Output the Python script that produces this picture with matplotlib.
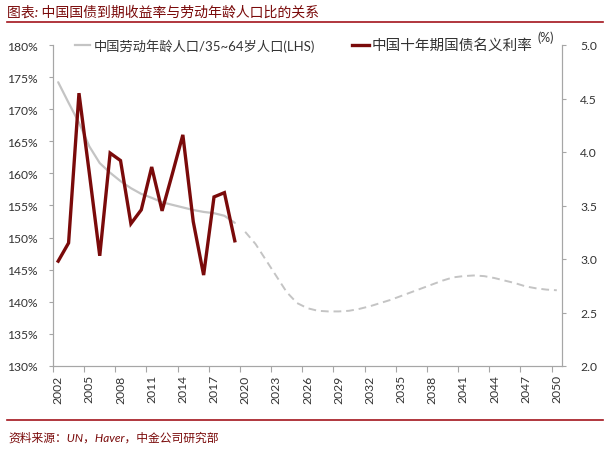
import matplotlib
matplotlib.use("Agg")
import matplotlib.pyplot as plt
from matplotlib.lines import Line2D
from matplotlib.ticker import FixedLocator, NullFormatter, FuncFormatter

# data
years = list(range(2002, 2020))
labor_ratio = [174.2, 171.0, 167.9, 164.2, 161.6, 160.1, 158.8, 157.7, 156.8,
               156.2, 155.5, 155.1, 154.7, 154.3, 154.0, 153.8, 153.4, 152.3]
bond_yield = [2.98, 3.15, 4.55, 3.80, 3.03, 3.99, 3.92, 3.33, 3.46,
              3.86, 3.45, 3.80, 4.16, 3.35, 2.85, 3.58, 3.62, 3.17]

proj_years = list(range(2020, 2051))
labor_ratio_proj = [150.9, 149.0, 146.5, 144.0, 141.5, 139.8, 139.0, 138.6,
                    138.5, 138.5, 138.6, 138.9, 139.3, 139.8, 140.3, 140.9,
                    141.5, 142.1, 142.7, 143.3, 143.8, 144.0, 144.1, 144.0,
                    143.7, 143.3, 142.9, 142.4, 142.1, 141.9, 141.8]

label_labor = "中国劳动年龄人口/35~64岁人口(LHS)"
label_yield = "中国十年期国债名义利率"
title = "图表: 中国国债到期收益率与劳动年龄人口比的关系"
source = "资料来源：UN，Haver，中金公司研究部"

MIXED = ["Lato", "Noto Sans CJK SC", "DejaVu Sans"]
DARK_RED = "#7a0a0a"
RULE_RED = "#a3141c"
GREY = "#c4c4c4"
AXIS_GREY = "#a6a6a6"
TEXT = "#333333"

plt.rcParams["font.family"] = MIXED

W, H = 610, 452
fig = plt.figure(figsize=(W / 100, H / 100), dpi=100)
ax = fig.add_axes([53 / W, 1 - 367 / H, (562 - 53) / W, (367 - 46) / H])
ax2 = ax.twinx()

# lines
ax.plot(years, labor_ratio, color=GREY, lw=1.6, solid_capstyle="round")
ax.plot(proj_years, labor_ratio_proj, color=GREY, lw=1.4, ls=(0, (4, 2.5)))
ax2.plot(years, bond_yield, color=DARK_RED, lw=2.4, solid_joinstyle="miter")

# axes
ax.set_xlim(2001.5, 2050.5)
ax.set_ylim(130, 180)
ax2.set_ylim(2.0, 5.0)
ax.set_yticks(range(130, 181, 5))
ax.yaxis.set_major_formatter(FuncFormatter(lambda v, p: f"{v:.0f}%"))
ax2.set_yticks([2.0 + 0.5 * i for i in range(7)])
ax2.yaxis.set_major_formatter(FuncFormatter(lambda v, p: f"{v:.1f}"))

label_years = list(range(2002, 2051, 3))
ax.xaxis.set_major_locator(FixedLocator([y - 0.5 for y in label_years]))
ax.xaxis.set_major_formatter(NullFormatter())
ax.xaxis.set_minor_locator(FixedLocator(label_years))
ax.set_xticklabels([str(y) for y in label_years], minor=True, rotation=90)
ax.tick_params(axis="x", which="major", length=4, width=0.8, color=AXIS_GREY)
ax.tick_params(axis="x", which="minor", length=0, pad=6, labelsize=8.7, labelcolor=TEXT)
ax.tick_params(axis="y", length=3, width=0.8, color=AXIS_GREY, pad=8, labelsize=8.7, labelcolor=TEXT)
ax2.tick_params(axis="y", length=3, width=0.8, color=AXIS_GREY, pad=10, labelsize=8.7, labelcolor=TEXT)

for a in (ax, ax2):
    a.spines["top"].set_visible(False)
    for s in ("left", "right", "bottom"):
        a.spines[s].set_color(AXIS_GREY)
        a.spines[s].set_linewidth(0.8)

# legend, drawn by hand to match the layout
ly = 1 - 46 / H
fig.add_artist(Line2D([75 / W, 90 / W], [ly, ly], color=GREY, lw=1.6))
fig.text(94 / W, ly, label_labor, fontsize=9.5, color=TEXT, va="center", family=MIXED)
fig.add_artist(Line2D([352 / W, 369 / W], [ly, ly], color=DARK_RED, lw=2.4))
fig.text(372 / W, ly, label_yield, fontsize=10.5, color=TEXT, va="center",
         family=["Noto Sans CJK SC", "DejaVu Sans"])
fig.text(537 / W, 1 - 38 / H, "(%)", fontsize=9, color=TEXT, va="center")

# header / footer
fig.text(7 / W, 1 - 12 / H, title, fontsize=10, color=DARK_RED, va="center",
         style="italic", family=MIXED)
fig.add_artist(Line2D([7 / W, 603 / W], [1 - 23 / H] * 2, color=RULE_RED, lw=1.2))
fig.add_artist(Line2D([7 / W, 603 / W], [1 - 421 / H] * 2, color=RULE_RED, lw=1.2))
fig.text(8 / W, 1 - 438 / H, source, fontsize=8.5, color=DARK_RED, va="center",
         style="italic", family=MIXED)

fig.savefig("out.png", dpi=100)
